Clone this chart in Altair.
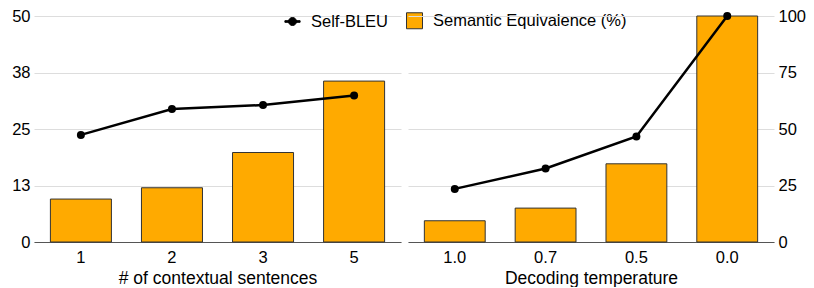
import altair as alt
import pandas as pd

# ---- data ----
ctx_labels = ["1", "2", "3", "5"]
ctx_semantic = [9.5, 12.0, 19.8, 35.6]
ctx_selfbleu = [23.7, 29.4, 30.3, 32.4]

temp_labels = ["1.0", "0.7", "0.5", "0.0"]
temp_semantic = [9.4, 15.0, 34.6, 100.0]
temp_selfbleu = [23.5, 32.5, 46.7, 100.0]

left_ticks = [0, 12.5, 25, 37.5, 50]
right_ticks = [0, 25, 50, 75, 100]

series_names = ["Self-BLEU", "Semantic Equivalence (%)"]

FONT = "Liberation Sans"
BAR_FILL = "#FFAA00"
BAR_STROKE = "#333333"
PLOT_H = 226

line_symbol = ("M-0.95,-0.1L0.95,-0.1L0.95,0.1L-0.95,0.1Z "
               "M-0.5,0A0.5,0.5 0 1,1 0.5,0A0.5,0.5 0 1,1 -0.5,0Z")


def panel(labels, sem, bleu, title, ymax, ticks, orient, width, with_legend):
    df = pd.DataFrame({"cat": labels, "sem": sem, "bleu": bleu})
    xenc = alt.X(
        "cat:N", sort=labels, title=title,
        scale=alt.Scale(paddingInner=0.33, paddingOuter=0.18),
        axis=alt.Axis(labelAngle=0, ticks=False, tickSize=0, labelPadding=7,
                      titlePadding=4, domainColor="#555555", domainWidth=1,
                      grid=False),
    )
    yaxis = alt.Axis(orient=orient, values=ticks, format=".0f", title=None,
                     domain=False, ticks=False, tickSize=0, labelPadding=4,
                     grid=True, gridColor="#dddddd", gridWidth=1)
    yscale = alt.Scale(domain=[0, ymax], nice=False, zero=True)
    base = alt.Chart(df).encode(x=xenc)
    bars = base.mark_bar(fill=BAR_FILL, stroke=BAR_STROKE, strokeWidth=1).encode(
        y=alt.Y("sem:Q", scale=yscale, axis=yaxis))
    line = base.mark_line(color="black", strokeWidth=2.5).encode(
        y=alt.Y("bleu:Q", scale=yscale, axis=yaxis))
    pts = base.mark_circle(color="black", size=64, opacity=1).encode(
        y=alt.Y("bleu:Q", scale=yscale, axis=yaxis))
    layers = [bars, line, pts]
    if with_legend:
        leg = alt.Legend(orient="none", legendX=250, legendY=-4,
                         direction="horizontal", title=None, symbolSize=256,
                         labelOffset=10, columnPadding=15, labelFontSize=16.5,
                         labelLimit=400, padding=0, symbolStrokeWidth=1)
        legend_df = pd.DataFrame({"series": series_names})
        legend_layer = (
            alt.Chart(legend_df)
            .transform_filter("false")
            .mark_point(filled=True, opacity=1)
            .encode(
                shape=alt.Shape("series:N", legend=leg,
                                scale=alt.Scale(domain=series_names,
                                                range=[line_symbol, "square"])),
                fill=alt.Fill("series:N", legend=leg,
                              scale=alt.Scale(domain=series_names,
                                              range=["black", BAR_FILL])),
                stroke=alt.Stroke("series:N", legend=leg,
                                  scale=alt.Scale(domain=series_names,
                                                  range=["black", BAR_STROKE])),
            )
        )
        layers.append(legend_layer)
    return alt.layer(*layers).properties(width=width, height=PLOT_H)


left = panel(ctx_labels, ctx_semantic, ctx_selfbleu, "# of contextual sentences",
             50, left_ticks, "left", 367, True)
right = panel(temp_labels, temp_semantic, temp_selfbleu, "Decoding temperature",
              100, right_ticks, "right", 366, False)

chart = (
    alt.hconcat(left, right, spacing=7, bounds="flush")
    .resolve_scale(shape="independent", fill="independent", stroke="independent")
    .resolve_legend(shape="independent", fill="independent", stroke="independent")
    .properties(padding={"left": 3, "top": 0, "right": 0, "bottom": 0})
    .configure_view(stroke=None)
    .configure_axis(labelFont=FONT, titleFont=FONT, labelFontSize=16.5,
                    titleFontSize=17.5, labelColor="black", titleColor="black",
                    titleFontWeight="normal")
    .configure_legend(labelFont=FONT, labelColor="black")
)

chart.save("out.html", embed_options={"renderer": "svg", "actions": False})
